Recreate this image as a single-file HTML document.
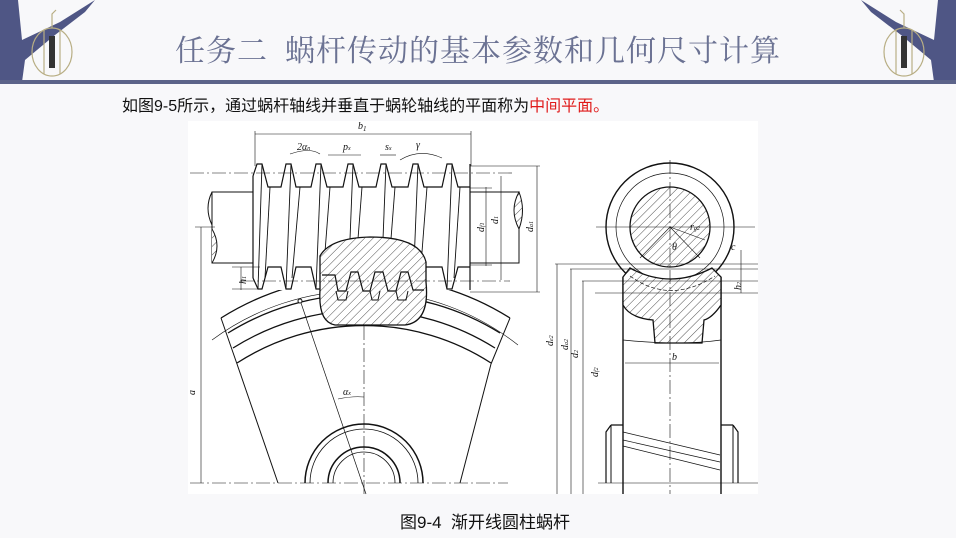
<!DOCTYPE html>
<html><head><meta charset="utf-8"><style>
html,body{margin:0;padding:0;}
body{width:956px;height:538px;background:#f8f8fa;position:relative;overflow:hidden;font-family:"Liberation Sans","Noto Sans CJK SC",sans-serif;}
.title{position:absolute;left:0;width:956px;top:26px;text-align:center;font-family:"Liberation Serif","Noto Serif CJK SC",serif;font-size:30px;color:#6b7293;letter-spacing:1px;}
.bar{position:absolute;left:0;top:80px;width:956px;height:4px;background:#5c6389;}
.para{position:absolute;left:122px;top:92px;font-size:16px;color:#111;}
.para span{color:#e01b1b;}
.cap{position:absolute;left:400px;top:508px;font-size:17px;color:#111;}
svg{position:absolute;left:0;top:0;}
</style></head><body>
<svg width="956" height="538" viewBox="0 0 956 538">
<defs>
<pattern id="h" width="6" height="6" patternUnits="userSpaceOnUse" patternTransform="rotate(45)">
<rect width="6" height="6" fill="#fff"/><line x1="0" y1="0" x2="0" y2="6" stroke="#222" stroke-width="0.8"/></pattern>
</defs>
<g fill="#4f5685">
<path d="M0,0 L18,0 L22,40 L60,22 L95,0 L85,12 L55,35 L25,60 L22,82 L0,82 Z"/>
<path d="M956,0 L938,0 L934,40 L896,22 L861,0 L871,12 L901,35 L931,60 L934,82 L956,82 Z"/>
</g>
<g fill="none" stroke="#b8ae84" stroke-width="1.2">
<ellipse cx="52" cy="52" rx="20" ry="24"/><ellipse cx="904" cy="52" rx="20" ry="24"/>
<path d="M52,28 L52,14 L56,10"/><path d="M904,28 L904,14 L900,10"/>
<line x1="44" y1="30" x2="44" y2="74"/><line x1="60" y1="30" x2="60" y2="74"/>
<line x1="896" y1="30" x2="896" y2="74"/><line x1="912" y1="30" x2="912" y2="74"/>
</g>
<rect x="49" y="36" width="6" height="32" fill="#333"/><rect x="901" y="36" width="6" height="32" fill="#333"/>
<rect x="188" y="121" width="570" height="373" fill="#fff"/>
<g stroke="#111" fill="none" stroke-width="1">
<!-- gear rim arcs (center 364,548) -->
<path d="M221,318 A271,271 0 0 1 510,318" stroke-width="1.3"/>
<path d="M228,333 A258,258 0 0 1 500,333" stroke-width="1.3"/>
<path d="M233,348 A246,246 0 0 1 495,348" stroke-width="1.3"/>
<path d="M237,363 A234,234 0 0 1 491,363" stroke-width="1.3"/>
<path d="M212,340 A252,252 0 0 1 518,345" stroke-width="0.6"/>
<line x1="221" y1="318" x2="237" y2="364"/><line x1="510" y1="318" x2="491" y2="364"/>
<line x1="237" y1="364" x2="278" y2="483"/><line x1="491" y1="364" x2="460" y2="483"/>
<line x1="190" y1="483" x2="508" y2="483" stroke-width="0.6" stroke-dasharray="14,3,2,3"/>
<!-- hub circles -->
<path d="M305,483 A59,59 0 0 1 423,483" stroke-width="1.5"/>
<path d="M310,483 A54,54 0 0 1 418,483" stroke-width="0.8"/>
<path d="M328,483 A36,36 0 0 1 400,483" stroke-width="1.5"/>
<path d="M333,483 A31,31 0 0 1 395,483" stroke-width="0.8"/>
<line x1="364" y1="238" x2="364" y2="494" stroke-width="0.6" stroke-dasharray="14,3,2,3"/>
<line x1="300" y1="300" x2="366" y2="494" stroke-width="0.7"/>
<circle cx="300" cy="301" r="2" fill="#fff"/>
<path d="M338,399 Q352,396 364,397" stroke-width="0.6"/>
<!-- worm -->
<rect x="212" y="192" width="41" height="71" fill="#fff"/>
<rect x="470" y="192" width="49" height="71" fill="#fff"/>
<path d="M212,192 Q204,208 212,225"/>
<path d="M212,229 Q222,246 212,263" fill="url(#h)"/>
<path d="M519,192 Q509,210 519,229 Q526,210 519,192Z" fill="url(#h)"/>
<path d="M253,163 L470,163 L470,290 L253,290 Z" fill="#fff" stroke="none"/>
<g stroke-width="1.2">
<path d="M253,176 L257,164 L262,164 L268,187 L281,187 L286,164 L291,164 L296,187 L311,187 L316,164 L321,164 L327,187 L343,187 L348,164 L353,164 L359,187 L376,187 L381,164 L386,164 L392,187 L408,187 L413,164 L418,164 L424,187 L442,187 L447,164 L452,164 L458,187 L470,187"/>
<path d="M253,278 L258,289 L262,289 L268,267 L281,267 L286,289 L291,289 L296,267 L311,267 L316,289 L321,289 L327,267 L343,267 L348,289 L353,289 L359,267 L376,267 L381,289 L386,289 L392,267 L408,267 L413,289 L418,289 L424,267 L442,267 L447,289 L452,289 L458,267 L470,267"/>
<line x1="253" y1="176" x2="253" y2="278"/><line x1="470" y1="164" x2="470" y2="290"/>
</g>
<g stroke-width="0.9">
<line x1="262" y1="164" x2="258" y2="289"/><line x1="270" y1="187" x2="265" y2="278"/>
<line x1="291" y1="164" x2="286" y2="289"/><line x1="300" y1="187" x2="292" y2="278"/>
<line x1="321" y1="164" x2="316" y2="289"/><line x1="330" y1="187" x2="323" y2="278"/>
<line x1="353" y1="164" x2="348" y2="289"/><line x1="362" y1="187" x2="355" y2="278"/>
<line x1="386" y1="164" x2="381" y2="289"/><line x1="395" y1="187" x2="388" y2="278"/>
<line x1="418" y1="164" x2="413" y2="289"/><line x1="427" y1="187" x2="420" y2="278"/>
<line x1="452" y1="164" x2="447" y2="289"/><line x1="460" y1="187" x2="454" y2="278"/>
</g>
<!-- gear tooth section -->
<path d="M320,256 Q330,238 370,237 Q420,237 426,262 L426,282 Q430,322 405,325 L335,325 Q318,322 320,290 Z" fill="url(#h)" stroke-width="1.3"/>
<path d="M322,275 L335,275 L338,291 L346,291 L351,272 L358,272 L363,291 L370,291 L375,272 L383,272 L388,291 L396,291 L401,272 L408,272 L413,290 L424,290" stroke-width="1.2"/>
<path d="M336,291 L338,300 L346,300 L348,291 M370,291 L372,300 L378,300 L380,291 M396,291 L398,300 L406,300 L408,291" stroke-width="1"/>
<!-- dims worm -->
<line x1="190" y1="173" x2="515" y2="173" stroke-width="0.6" stroke-dasharray="14,3,2,3"/>
<line x1="240" y1="281" x2="510" y2="281" stroke-width="0.6" stroke-dasharray="14,3,2,3"/>
<line x1="470" y1="166" x2="540" y2="166" stroke-width="0.6"/><line x1="470" y1="292" x2="540" y2="292" stroke-width="0.6"/>
<line x1="537" y1="166" x2="537" y2="292" stroke-width="0.6"/>
<line x1="501" y1="176" x2="501" y2="280" stroke-width="0.6"/>
<line x1="486" y1="187" x2="486" y2="266" stroke-width="0.6"/>
<line x1="470" y1="188" x2="492" y2="188" stroke-width="0.6"/><line x1="470" y1="265" x2="492" y2="265" stroke-width="0.6"/>
<line x1="255" y1="131" x2="255" y2="166" stroke-width="0.6"/><line x1="471" y1="131" x2="471" y2="166" stroke-width="0.6"/>
<line x1="255" y1="134" x2="471" y2="134" stroke-width="0.5"/>
<line x1="201" y1="227" x2="201" y2="483" stroke-width="0.6"/>
<line x1="195" y1="227" x2="215" y2="227" stroke-width="0.6"/>
<line x1="241" y1="267" x2="241" y2="290" stroke-width="0.6"/>
<line x1="232" y1="267" x2="260" y2="267" stroke-width="0.6"/><line x1="232" y1="289" x2="260" y2="289" stroke-width="0.6"/>
<path d="M290,154 Q310,147 320,154" stroke-width="0.6"/>
<line x1="328" y1="155" x2="361" y2="155" stroke-width="0.6"/>
<line x1="380" y1="155" x2="396" y2="155" stroke-width="0.6"/>
<path d="M400,160 Q420,148 442,158" stroke-width="0.6"/>
<!-- right view -->
<circle cx="670" cy="227" r="64" fill="#fff" stroke-width="1.4"/>
<circle cx="670" cy="227" r="54" stroke-width="0.7"/>
<circle cx="670" cy="227" r="40" fill="url(#h)" stroke-width="1.3"/>
<rect x="623" y="280" width="98" height="203" fill="#fff" stroke="none"/>
<path d="M623,277 L623,494 M721,277 L721,494" stroke-width="1.4"/>
<path d="M623,277 L630,268 Q670,290 712,268 L721,277 L721,305 Q712,318 704,320 L702,343 L655,343 L653,320 Q630,318 623,305 Z" fill="url(#h)" stroke-width="1.3"/>
<path d="M630,276 Q670,305 715,276" stroke-dasharray="4,2" stroke-width="0.7"/>
<path d="M623,340 Q680,346 721,340" stroke-width="0.7"/>
<line x1="670" y1="160" x2="670" y2="494" stroke-width="0.6" stroke-dasharray="14,3,2,3"/>
<line x1="596" y1="227" x2="755" y2="227" stroke-width="0.6"/>
<line x1="670" y1="227" x2="705" y2="240" stroke-width="0.6"/>
<line x1="670" y1="227" x2="640" y2="258" stroke-width="0.6"/><line x1="670" y1="227" x2="700" y2="258" stroke-width="0.6"/>
<line x1="555" y1="264" x2="758" y2="264" stroke-width="0.6"/>
<line x1="570" y1="269" x2="758" y2="269" stroke-width="0.6"/>
<line x1="582" y1="281" x2="758" y2="281" stroke-width="0.6"/>
<line x1="595" y1="293" x2="758" y2="293" stroke-width="0.6"/>
<line x1="557" y1="264" x2="557" y2="494" stroke-width="0.6"/>
<line x1="571" y1="269" x2="571" y2="494" stroke-width="0.6"/>
<line x1="583" y1="281" x2="583" y2="494" stroke-width="0.6"/>
<line x1="625" y1="363" x2="719" y2="363" stroke-width="0.6"/>
<line x1="741" y1="250" x2="741" y2="293" stroke-width="0.6"/>
<path d="M611,425 L606,432 L606,483 M611,425 L623,425 M733,425 L738,432 L738,483 M733,425 L721,425" stroke-width="1.2"/>
<line x1="611" y1="425" x2="611" y2="483"/><line x1="733" y1="425" x2="733" y2="483"/>
<path d="M623,432 L720,455 M623,440 L720,462 M623,446 L720,470" stroke-width="0.7"/>
<line x1="598" y1="483" x2="758" y2="483" stroke-width="0.6"/>
</g>
<g font-family="Liberation Serif,serif" font-style="italic" font-size="10" fill="#111">
<text x="358" y="129">b<tspan font-size="7" dy="2">1</tspan></text>
<text x="297" y="150">2α<tspan font-size="6">n</tspan></text>
<text x="343" y="150">p<tspan font-size="6">x</tspan></text>
<text x="385" y="150">s<tspan font-size="6">x</tspan></text>
<text x="416" y="148">γ</text>
<text x="343" y="395">α<tspan font-size="6">x</tspan></text>
<text x="672" y="360">b</text>
<text x="731" y="250">c</text>
<text x="741" y="290" transform="rotate(-90 741 290)">h<tspan font-size="6">2</tspan></text>
<text x="246" y="284" transform="rotate(-90 246 284)">h<tspan font-size="6">1</tspan></text>
<text x="484" y="232" transform="rotate(-90 484 232)">d<tspan font-size="6">f1</tspan></text>
<text x="498" y="224" transform="rotate(-90 498 224)">d<tspan font-size="6">1</tspan></text>
<text x="533" y="232" transform="rotate(-90 533 232)">d<tspan font-size="6">a1</tspan></text>
<text x="195" y="395" transform="rotate(-90 195 395)">a</text>
<text x="553" y="346" transform="rotate(-90 553 346)">d<tspan font-size="6">e2</tspan></text>
<text x="568" y="350" transform="rotate(-90 568 350)">d<tspan font-size="6">a2</tspan></text>
<text x="578" y="358" transform="rotate(-90 578 358)">d<tspan font-size="6">2</tspan></text>
<text x="598" y="377" transform="rotate(-90 598 377)">d<tspan font-size="6">f2</tspan></text>
<text x="672" y="250">θ</text>
<text x="690" y="230">r<tspan font-size="6">g2</tspan></text>
</g>
</svg>
<div class="title">任务二&nbsp;&nbsp;蜗杆传动的基本参数和几何尺寸计算</div>
<div class="bar"></div>
<div class="para">如图9-5所示，通过蜗杆轴线并垂直于蜗轮轴线的平面称为<span>中间平面。</span></div>
<div class="cap">图9-4&nbsp;&nbsp;渐开线圆柱蜗杆</div>
</body></html>
